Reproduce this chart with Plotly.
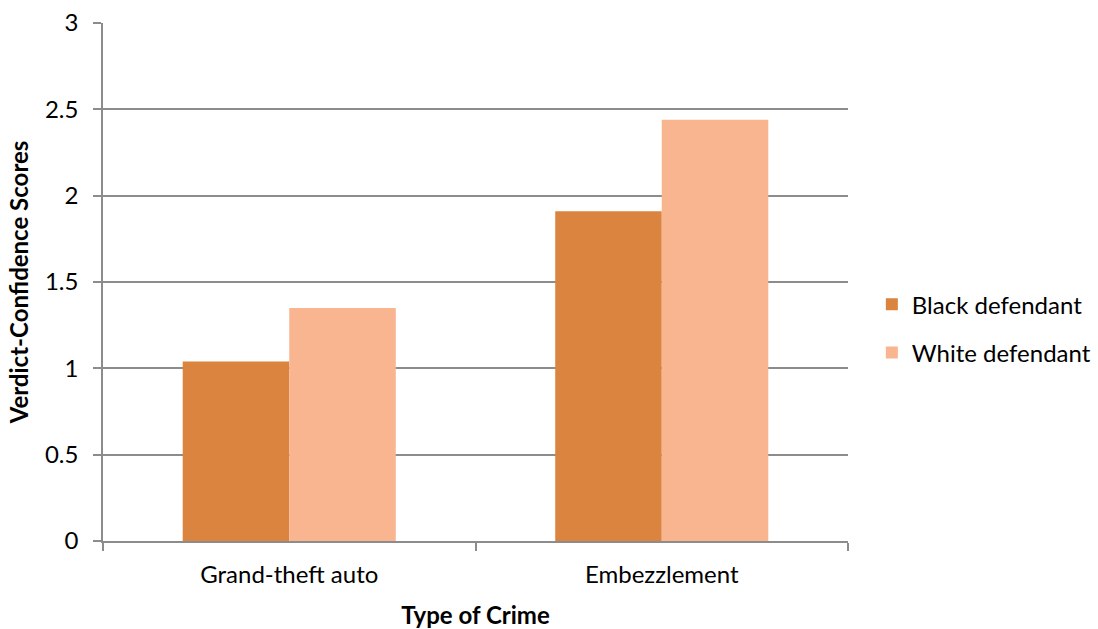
import plotly.graph_objects as go

# Mean verdict-confidence scores by crime type and defendant race
crimes = ["Grand-theft auto", "Embezzlement"]
black_defendant = [1.04, 1.91]
white_defendant = [1.35, 2.44]
y_ticks = [0, 0.5, 1, 1.5, 2, 2.5, 3]
y_tick_text = ["0", "0.5", "1", "1.5", "2", "2.5", "3"]

FONT = "Lato, 'Open Sans', sans-serif"
GRID = "#8c8c8c"
SIZE = 24

fig = go.Figure()
fig.add_trace(go.Bar(
    x=crimes, y=black_defendant, name="Black defendant",
    marker=dict(color="#DA843F", line=dict(width=0)),
    legendgroup="b",
))
fig.add_trace(go.Bar(
    x=crimes, y=white_defendant, name="White defendant",
    marker=dict(color="#F8B590", line=dict(width=0)),
    legendgroup="w",
))

fig.update_layout(
    width=1098, height=629,
    margin=dict(l=103, r=250, t=23, b=88, autoexpand=False),
    paper_bgcolor="white", plot_bgcolor="white",
    barmode="group", bargap=0.428, bargroupgap=0,
    font=dict(family=FONT, size=SIZE, color="#000000"),
    legend=dict(
        x=1.032, y=0.41, xanchor="left", yanchor="middle",
        font=dict(size=SIZE), tracegroupgap=14,
        itemwidth=30,
    ),
)

fig.update_xaxes(
    automargin=False,
    showline=True, linecolor=GRID, linewidth=1.5,
    ticks="outside", ticklen=8, tickcolor=GRID, tickwidth=1.5,
    tickmode="linear",
    showgrid=False,
    tickson="boundaries",
    ticklabelstandoff=11,
    title=dict(text="<b>Type of Crime</b>", font=dict(size=SIZE), standoff=22),
)
fig.update_yaxes(
    automargin=False,
    range=[0, 3], tickvals=y_ticks, ticktext=y_tick_text,
    showline=True, linecolor=GRID, linewidth=1.5,
    ticks="outside", ticklen=8, tickcolor=GRID, tickwidth=1.5,
    showgrid=True, gridcolor=GRID, gridwidth=1.5,
    zeroline=False,
    ticklabelstandoff=10,
    title=dict(text="<b>Verdict-Confidence Scores</b>", font=dict(size=SIZE), standoff=10),
)

fig.write_html("out.html")
